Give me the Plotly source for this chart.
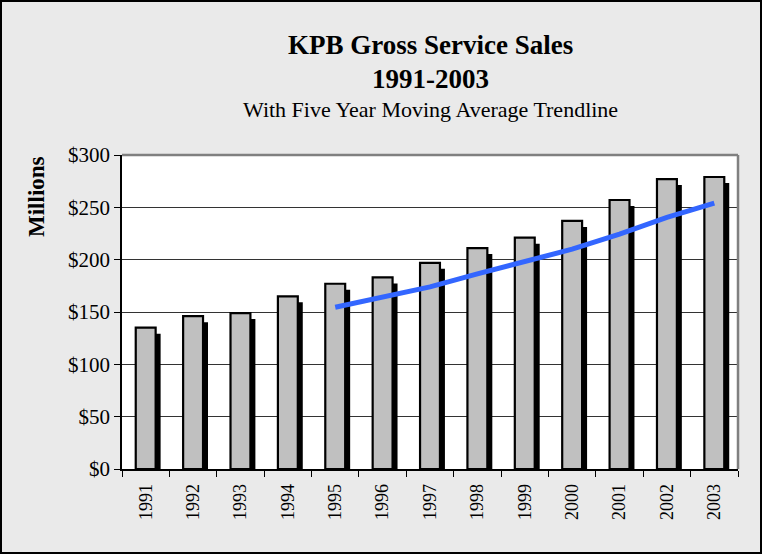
import plotly.graph_objects as go

years = ["1991", "1992", "1993", "1994", "1995", "1996", "1997",
         "1998", "1999", "2000", "2001", "2002", "2003"]
sales = [135, 146, 149, 165, 177, 183, 197, 211, 221, 237, 257, 277, 279]
trend_years = ["1995", "1996", "1997", "1998", "1999", "2000", "2001", "2002", "2003"]
trend_values = [154.5, 164, 174, 186.5, 198, 210, 224.5, 240.5, 254]
y_ticks = [0, 50, 100, 150, 200, 250, 300]
y_tick_labels = ["$0", "$50", "$100", "$150", "$200", "$250", "$300"]

FONT = "Liberation Serif"
W, H = 762, 554
L, R, T, B = 122, 24, 155, 85
pw, ph = W - L - R, H - T - B

bar_w = 0.42
shadow_dx = 0.105
shadow_dy = 5.7

fig = go.Figure()
fig.add_trace(go.Bar(
    x=years, y=[v - shadow_dy for v in sales],
    width=bar_w, offset=-bar_w / 2 + shadow_dx,
    marker=dict(color="black", line=dict(width=0)),
    hoverinfo="skip", showlegend=False,
))
fig.add_trace(go.Bar(
    x=years, y=sales,
    width=bar_w, offset=-bar_w / 2,
    marker=dict(color="#C0C0C0", line=dict(color="black", width=2.2)),
    showlegend=False, name="Sales",
))
fig.add_trace(go.Scatter(
    x=trend_years, y=trend_values, mode="lines",
    line=dict(color="#3366FF", width=5),
    showlegend=False, name="5-yr MA",
))

fig.update_layout(
    width=W, height=H,
    margin=dict(l=L, r=R, t=T, b=B),
    paper_bgcolor="#EAEAEA",
    plot_bgcolor="white",
    barmode="overlay",
    font=dict(family=FONT, color="black"),
    xaxis=dict(
        type="category", tickangle=-90,
        tickfont=dict(family=FONT, size=18),
        showline=True, linecolor="black", linewidth=1.5,
        ticks="outside", ticklen=6, tickcolor="black", tickson="boundaries",
        ticklabelstandoff=6,
        showgrid=False, range=[-0.5, 12.5], fixedrange=True,
    ),
    yaxis=dict(
        range=[0, 300], tickvals=y_ticks, ticktext=y_tick_labels,
        tickfont=dict(family=FONT, size=21),
        showline=True, linecolor="black", linewidth=1.5,
        ticks="outside", ticklen=6, tickcolor="black",
        showgrid=True, gridcolor="#333333", gridwidth=1,
        zeroline=False, fixedrange=True,
    ),
    shapes=[
        dict(type="line", xref="paper", yref="paper", x0=0, x1=1, y0=1, y1=1,
             line=dict(color="#808080", width=2.5), layer="above"),
        dict(type="line", xref="paper", yref="paper", x0=1, x1=1, y0=0, y1=1,
             line=dict(color="#808080", width=2.5), layer="above"),
        dict(type="rect", xref="paper", yref="paper",
             x0=(1 - L) / pw, x1=(W - 1 - L) / pw,
             y0=-(B - 1) / ph, y1=1 + (T - 1) / ph,
             line=dict(color="black", width=2), layer="above"),
    ],
    annotations=[
        dict(text="<b>KPB Gross Service Sales</b>", xref="paper", yref="paper",
             x=0.5, y=1 + (T - 45) / ph, xanchor="center", yanchor="middle",
             showarrow=False, font=dict(family=FONT, size=27)),
        dict(text="<b>1991-2003</b>", xref="paper", yref="paper",
             x=0.5, y=1 + (T - 79) / ph, xanchor="center", yanchor="middle",
             showarrow=False, font=dict(family=FONT, size=27)),
        dict(text="With Five Year Moving Average Trendline", xref="paper", yref="paper",
             x=0.5, y=1 + (T - 110) / ph, xanchor="center", yanchor="middle",
             showarrow=False, font=dict(family=FONT, size=22)),
        dict(text="<b>Millions</b>", xref="paper", yref="paper",
             x=(36 - L) / pw, y=1 - (197 - T) / ph, xanchor="center", yanchor="middle",
             textangle=-90, showarrow=False, font=dict(family=FONT, size=23)),
    ],
)

fig.write_html("out.html", config={"displayModeBar": False},
               post_script="document.body.style.margin='0px';")
